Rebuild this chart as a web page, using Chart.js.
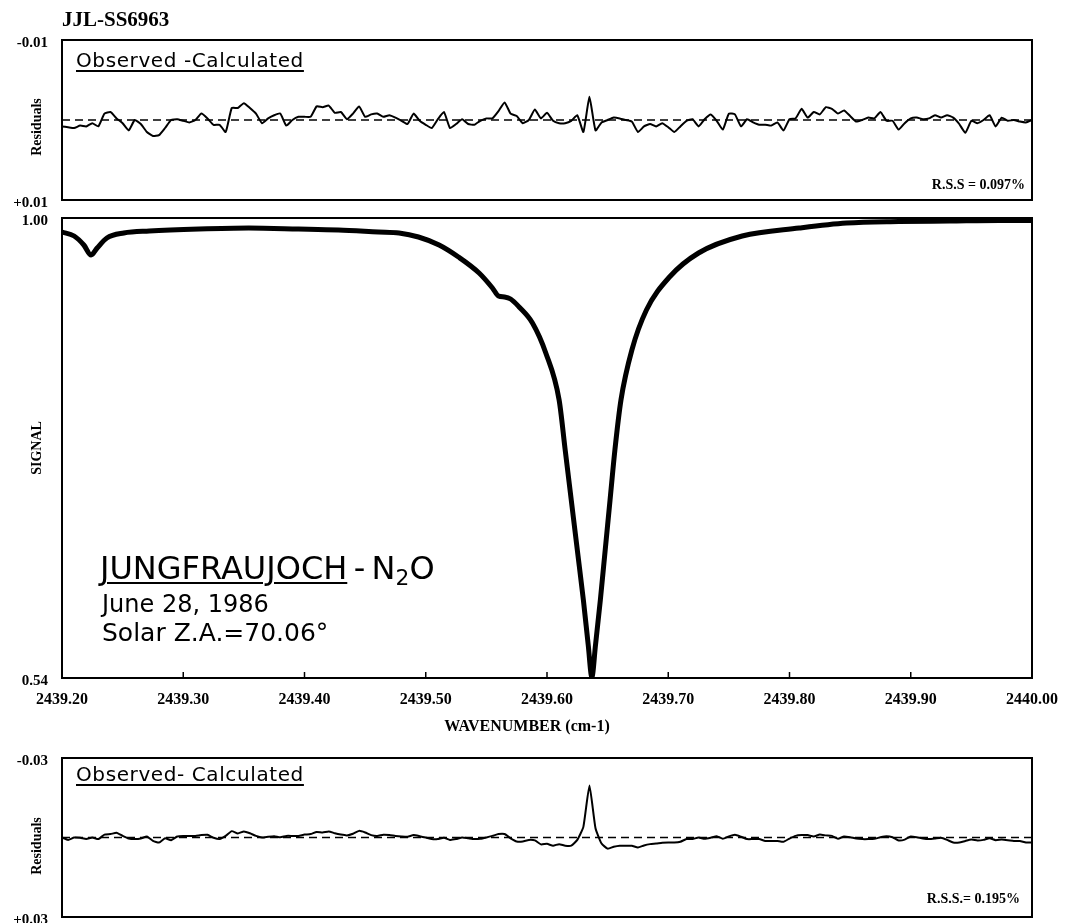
<!DOCTYPE html>
<html>
<head>
<meta charset="utf-8">
<script src="https://cdn.jsdelivr.net/npm/chart.js@4/dist/chart.umd.min.js"></script>
<style>
body{margin:0;background:#fff;}
#wrap{position:relative;width:1066px;height:923px;overflow:hidden;background:#fff;}
canvas{position:absolute;left:0;}
.t{position:absolute;white-space:nowrap;color:#000;line-height:1;}
.serif{font-family:"Liberation Serif","Times New Roman",serif;font-weight:bold;}
.sans{font-family:"DejaVu Sans",sans-serif;}
.rot{transform:translate(-50%,-50%) rotate(-90deg);}
.ul{text-decoration:underline;text-decoration-thickness:2px;text-underline-offset:3px;}
.oc{font-size:20px;letter-spacing:0.6px;}
sub{font-size:0.68em;vertical-align:-0.28em;}
</style>
</head>
<body>
<div id="wrap">
<canvas id="topChart" width="1066" height="215" style="top:0"></canvas>
<canvas id="mainChart" width="1066" height="540" style="top:210px"></canvas>
<canvas id="botChart" width="1066" height="178" style="top:745px"></canvas>

<div class="t serif" style="left:62px;top:9px;font-size:21px">JJL-SS6963</div>
<div class="t sans ul oc" style="left:76px;top:50px">Observed -Calculated</div>
<div class="t serif" style="right:41px;top:178px;font-size:14px">R.S.S = 0.097%</div>
<div class="t serif rot" style="left:37px;top:127px;font-size:14px">Residuals</div>

<div class="t serif rot" style="left:37px;top:448px;font-size:14px">SIGNAL</div>
<div class="t sans" style="left:100px;top:552px;font-size:32px"><span class="ul">JUNGFRAUJOCH</span>&thinsp;-&thinsp;N<sub>2</sub>O</div>
<div class="t sans" style="left:102px;top:592px;font-size:24px">June 28, 1986</div>
<div class="t sans" style="left:102px;top:620px;font-size:25px">Solar Z.A.=70.06°</div>
<div class="t serif" style="left:527px;top:718px;font-size:16px;transform:translateX(-50%)">WAVENUMBER (cm-1)</div>

<div class="t sans ul oc" style="left:76px;top:764px">Observed- Calculated</div>
<div class="t serif" style="right:46px;top:892px;font-size:14px">R.S.S.= 0.195%</div>
<div class="t serif rot" style="left:37px;top:846px;font-size:14px">Residuals</div>
</div>

<script>
// main spectrum (wavenumber, signal)
var mainNu=[2439.200,2439.210,2439.218,2439.224,2439.229,2439.237,2439.251,2439.272,2439.313,2439.354,
	2439.395,2439.428,2439.461,2439.478,2439.494,2439.511,2439.527,2439.544,2439.555,2439.560,
	2439.565,2439.570,2439.577,2439.588,2439.599,2439.610,2439.615,2439.620,2439.625,2439.630,
	2439.634,2439.637,2439.640,2439.644,2439.648,2439.652,2439.656,2439.661,2439.670,2439.682,
	2439.701,2439.725,2439.761,2439.808,2439.847,2439.890,2439.932,2439.973,2440.000];
var mainSignal=[0.986,0.982,0.973,0.963,0.970,0.980,0.985,0.987,0.989,0.990,
	0.989,0.988,0.986,0.985,0.981,0.973,0.961,0.945,0.930,0.922,
	0.921,0.919,0.911,0.895,0.865,0.818,0.768,0.718,0.668,0.618,
	0.573,0.541,0.573,0.618,0.668,0.718,0.768,0.818,0.868,0.908,
	0.941,0.965,0.982,0.990,0.995,0.9965,0.997,0.9975,0.9975];

// residuals sampled every 0.005 cm-1 from 2439.200 to 2440.000
var resStart=2439.2, resStep=0.005;
var topResid=[0.0008,0.0009,0.0010,0.0007,0.0008,0.0004,0.0008,-0.0008,-0.0010,-0.0002,
	0.0004,0.0013,0,0.0005,0.0015,0.0020,0.0019,0.0010,0,-0.0001,
	0.0001,0.0003,0,-0.0008,-0.0002,0.0006,0.0006,0.0015,-0.0015,-0.0015,
	-0.0021,-0.0015,-0.0008,0.0004,-0.0002,-0.0006,-0.0008,0.0007,0,-0.0004,
	-0.0004,-0.0004,-0.0017,-0.0016,-0.0018,-0.0009,-0.0010,-0.0001,-0.0008,-0.0017,
	-0.0004,-0.0007,-0.0008,-0.0004,-0.0006,-0.0003,0.0001,0.0005,-0.0008,0.0001,
	0.0006,0.0010,-0.0001,-0.0010,0.0010,0.0005,-0.0001,0.0005,0.0006,0.0001,
	-0.0002,-0.0002,-0.0011,-0.0022,-0.0008,-0.0005,0.0004,0,-0.0013,-0.0002,
	-0.0009,0.0001,0.0004,0.0004,0.0001,-0.0006,0.0015,-0.0029,0.0013,0.0003,
	0,-0.0003,-0.0002,0,0.0002,0.0015,0.0008,0.0005,0.0008,0.0004,
	0.0009,0.0015,0.0008,0.0001,-0.0001,0.0008,-0.0001,-0.0007,0.0001,0.0012,
	-0.0008,-0.0007,0.0008,-0.0001,0.0003,0.0006,0.0006,0.0007,0.0003,0.0013,
	-0.0001,-0.0002,-0.0014,-0.0003,-0.0010,-0.0007,-0.0016,-0.0014,-0.0008,-0.0012,
	-0.0005,0.0002,0,-0.0003,-0.0002,-0.0010,0.0001,0.0001,0.0012,0.0004,
	-0.0002,-0.0003,-0.0001,-0.0002,-0.0006,-0.0003,-0.0006,-0.0003,0.0005,0.0016,
	0.0001,0.0004,0,-0.0006,0.0008,-0.0003,0.0001,0,0.0002,0.0003,0];
var botResid=[0,0.0009,0,0.0001,0.0006,0,0.0006,-0.0011,-0.0013,-0.0018,
	-0.0006,0.0004,0.0006,0.0004,-0.0004,0.0013,0.0019,0.0003,0.0010,-0.0004,
	-0.0006,-0.0006,-0.0006,-0.0009,-0.0010,0.0001,0.0006,-0.0006,-0.0024,-0.0015,
	-0.0023,-0.0016,-0.0006,0,-0.0003,-0.0005,-0.0001,-0.0006,-0.0006,-0.0006,
	-0.0011,-0.0013,-0.0021,-0.0019,-0.0023,-0.0016,-0.0011,-0.0008,-0.0014,-0.0025,
	-0.0019,-0.0009,-0.0006,-0.0010,-0.0009,-0.0006,-0.0004,-0.0003,-0.0009,-0.0005,
	0,0.0006,0.0006,0.0001,0.0009,0.0006,0,0.0003,0.0006,0.0005,
	0,-0.0006,-0.0013,-0.0013,0.0003,0.0015,0.0015,0.0009,0.0011,0.0026,
	0.0024,0.0031,0.0025,0.0031,0.0031,0.0009,-0.0040,-0.0196,-0.0035,0.0023,
	0.0042,0.0035,0.0031,0.0031,0.0031,0.0038,0.0030,0.0025,0.0023,0.0020,
	0.0019,0.0019,0.0016,0.0006,0.0006,0,0.0005,0.0001,-0.0005,0.0005,
	-0.0004,-0.0010,-0.0003,0.0006,0.0006,0.0006,0.0013,0.0013,0.0013,0.0016,
	0.0004,-0.0006,-0.0009,-0.0009,-0.0004,-0.0011,-0.0008,-0.0006,0.0005,-0.0004,
	-0.0001,0.0004,0.0006,0.0006,0.0005,-0.0001,-0.0005,-0.0001,0.0011,0.0008,
	-0.0004,-0.0001,0.0004,0.0006,0.0004,0.0001,0.0009,0.0019,0.0019,0.0013,
	0.0008,0.0011,0.0009,0.0003,0.0010,0.0008,0.0010,0.0013,0.0013,0.0019,0.0019];

var xTicks=[2439.20,2439.30,2439.40,2439.50,2439.60,2439.70,2439.80,2439.90,2440.00];
var topRange=[-0.01,0.01], botRange=[-0.03,0.03], mainRange=[0.54,1.00];

var serifFont={family:'"Liberation Serif","Times New Roman",serif',weight:'bold',size:15};

function pairs(xs,ys){ return ys.map(function(v,i){return {x:xs[i],y:v};}); }
var residNu=topResid.map(function(v,i){return +(resStart+i*resStep).toFixed(3);});

// box around the plot area + inward ticks on the wavenumber axis
var frame={id:'frame',afterDatasetsDraw:function(chart,args,opts){
	var ctx=chart.ctx,a=chart.chartArea;
	ctx.save();
	ctx.strokeStyle='#000';ctx.lineWidth=2;
	ctx.strokeRect(a.left,a.top,a.right-a.left,a.bottom-a.top);
	if(opts.ticks){
		var sx=chart.scales.x;
		ctx.lineWidth=1.5;
		xTicks.forEach(function(t){
			var px=sx.getPixelForValue(t);
			ctx.beginPath();ctx.moveTo(px,a.bottom);ctx.lineTo(px,a.bottom-6);ctx.stroke();
		});
	}
	ctx.restore();
}};

function yAxis(range,reverse,fmt){
	return {min:range[0],max:range[1],reverse:reverse,
		grid:{display:false,drawTicks:false},border:{display:false},
		afterBuildTicks:function(s){s.ticks=[{value:range[0]},{value:range[1]}];},
		afterFit:function(s){s.width=62;s.paddingTop=0;s.paddingBottom=0;},
		ticks:{font:serifFont,color:'#000',padding:14,labelOffset:3,callback:fmt}};
}
function resFmt(v){ return v>0?'+'+v.toFixed(2):v.toFixed(2); }

function residChart(id,vals,range,pad){
	return new Chart(document.getElementById(id),{
		type:'line',
		data:{datasets:[
			{data:[{x:2439.2,y:0},{x:2440.0,y:0}],borderColor:'#000',borderWidth:1.5,borderDash:[8,5],pointRadius:0},
			{data:pairs(residNu,vals),borderColor:'#000',borderWidth:2,pointRadius:0,tension:0.15}
		]},
		options:{responsive:false,animation:false,devicePixelRatio:1,
			layout:{padding:pad},
			plugins:{legend:{display:false},tooltip:{enabled:false},frame:{ticks:false}},
			scales:{
				x:{type:'linear',min:2439.2,max:2440.0,display:false},
				y:yAxis(range,true,resFmt)
			}},
		plugins:[frame]
	});
}

residChart('topChart',topResid,topRange,{top:40,right:34,bottom:15,left:0});
residChart('botChart',botResid,botRange,{top:13,right:34,bottom:6,left:0});

new Chart(document.getElementById('mainChart'),{
	type:'line',
	data:{datasets:[
		{data:pairs(mainNu,mainSignal),borderColor:'#000',borderWidth:5,pointRadius:0,cubicInterpolationMode:'monotone'}
	]},
	options:{responsive:false,animation:false,devicePixelRatio:1,
		layout:{padding:{top:8,right:34,bottom:42,left:0}},
		plugins:{legend:{display:false},tooltip:{enabled:false},frame:{ticks:true}},
		scales:{
			x:{type:'linear',min:2439.2,max:2440.0,
				grid:{display:false,drawTicks:false},border:{display:false},
				afterBuildTicks:function(s){s.ticks=xTicks.map(function(v){return {value:v};});},
				afterFit:function(s){s.height=30;s.paddingLeft=0;s.paddingRight=0;},
				ticks:{font:{family:serifFont.family,weight:'bold',size:16},color:'#000',padding:12,maxRotation:0,autoSkip:false,
					callback:function(v){return v.toFixed(2);}}},
			y:yAxis(mainRange,false,function(v){return v.toFixed(2);})
		}},
	plugins:[frame]
});
</script>
</body>
</html>
